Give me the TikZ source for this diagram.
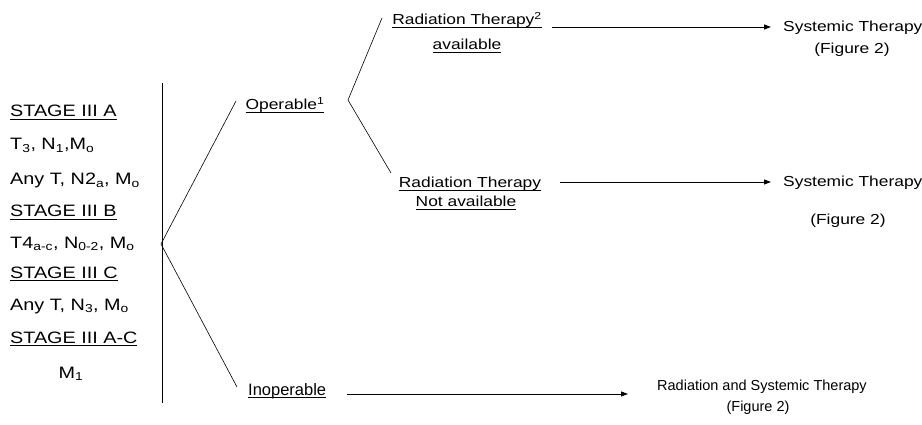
\documentclass[tikz,border=0pt]{standalone}
\usepackage{fontspec}
\setmainfont{Liberation Sans}[FakeStretch=1.2]
\newfontfamily\plainfont{Liberation Sans}
\usetikzlibrary{arrows.meta}
\newcommand\myul[1]{\setbox0\hbox{#1}\rlap{\rule[-2.4pt]{\wd0}{0.8pt}}\box0}
\tikzset{
  lefttxt/.style={inner sep=0pt, anchor=base west, font=\fontsize{16.5}{20}\selectfont},
  righttxt/.style={inner sep=0pt, anchor=base, font=\fontsize{14.5}{17}\selectfont},
  plaintxt/.style={inner sep=0pt, font=\plainfont\fontsize{14.5}{17}\selectfont},
  thinline/.style={line width=0.6pt},
  arr/.style={line width=0.9pt, -{Triangle[length=7pt,width=5pt]}}
}
\begin{document}
\begin{tikzpicture}[x=1pt,y=-1pt]
\useasboundingbox (0,0) rectangle (922,425);
% left column
\node[lefttxt] (s1) at (10,117) {\myul{STAGE III A}};
\node[lefttxt] (l2) at (10,150) {T\textsubscript{3}, N\textsubscript{1},M\textsubscript{o}};
\node[lefttxt] (l3) at (10,185) {Any T, N2\textsubscript{a}, M\textsubscript{o}};
\node[lefttxt] (s2) at (10,217) {\myul{STAGE III B}};
\node[lefttxt] (l5) at (10,248) {T4\textsubscript{a-c}, N\textsubscript{0-2}, M\textsubscript{o}};
\node[lefttxt] (s3) at (10,278) {\myul{STAGE III C}};
\node[lefttxt] (l7) at (10,310) {Any T, N\textsubscript{3}, M\textsubscript{o}};
\node[lefttxt] (s4) at (10,343) {\myul{STAGE III A-C}};
\node[lefttxt, anchor=base] (l9) at (71,378) {M\textsubscript{1}};
% vertical bar
\coordinate (barTop) at (162,83);
\coordinate (barBot) at (162,403);
\draw[thinline] (barTop) -- (barBot);
% first fork
\coordinate (apex1) at (161,244);
\coordinate (opEnd) at (236,101);
\coordinate (inEnd) at (237,387);
\draw[thinline] (opEnd) -- (apex1) -- (inEnd);
\node[righttxt] (oper) at (285,110) {\myul{Operable\textsuperscript{1}}};
% second fork
\coordinate (apex2) at (348,100);
\coordinate (rtaEnd) at (382,18);
\coordinate (rtnEnd) at (391,173);
\draw[thinline] (rtaEnd) -- (apex2) -- (rtnEnd);
% top branch
\node[righttxt] (rta1) at (467,25) {\myul{Radiation Therapy\textsuperscript{2}}};
\node[righttxt] (rta2) at (467,50) {\myul{available}};
\coordinate (a1s) at (552,27);
\coordinate (a1e) at (771,27);
\draw[arr] (a1s) -- (a1e);
\node[righttxt, anchor=base west] (sys1) at (783,32) {Systemic Therapy};
\node[righttxt] (fig1) at (852,54) {(Figure 2)};
% middle branch
\node[righttxt] (rtn1) at (470,188) {\myul{Radiation Therapy}};
\node[righttxt] (rtn2) at (466,207) {\myul{Not available}};
\coordinate (a2s) at (560,182);
\coordinate (a2e) at (771,182);
\draw[arr] (a2s) -- (a2e);
\node[righttxt, anchor=base west] (sys2) at (783,187) {Systemic Therapy};
\node[righttxt] (fig2) at (848,225) {(Figure 2)};
% bottom branch
\node[plaintxt, font=\plainfont\fontsize{16.5}{20}\selectfont, anchor=base west] (inop) at (248,395) {\myul{Inoperable}};
\coordinate (a3s) at (347,394);
\coordinate (a3e) at (628,394);
\draw[arr] (a3s) -- (a3e);
\node[plaintxt, anchor=base west] (rst) at (657,390) {Radiation and Systemic Therapy};
\node[plaintxt, anchor=base] (fig3) at (758,411) {(Figure 2)};
\end{tikzpicture}
\end{document}
